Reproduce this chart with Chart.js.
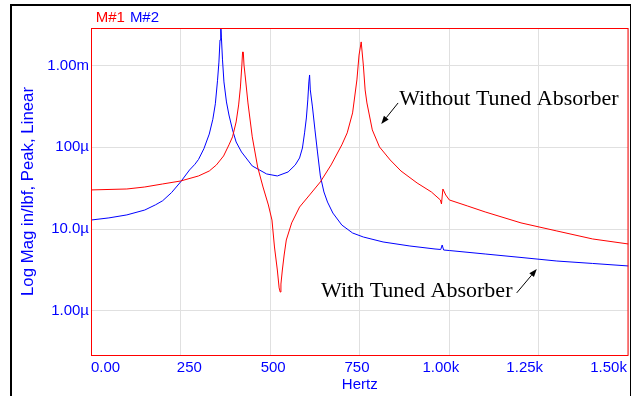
<!DOCTYPE html>
<html><head><meta charset="utf-8">
<script src="https://cdn.jsdelivr.net/npm/chart.js@4.4.1/dist/chart.umd.min.js"></script>
<style>
html,body{margin:0;padding:0;background:#fff;overflow:hidden;width:631px;height:396px;}
#frame{position:absolute;left:10px;top:4px;width:618px;height:420px;border-left:2px solid #000;border-top:2px solid #000;border-right:1px solid #000;}
#c{position:absolute;left:0;top:0;}
</style></head><body>
<div id="frame"></div>
<canvas id="c" width="631" height="396"></canvas>
<script>
// ---- data ----
const seriesNames = ['M#1', 'M#2'];
const xTicks = [0, 250, 500, 750, 1000, 1250, 1500];
const xTickLabels = ['0.00', '250', '500', '750', '1.00k', '1.25k', '1.50k'];
const yTicks = [1e-3, 1e-4, 1e-5, 1e-6];
const yTickLabels = ['1.00m', '100\u00b5', '10.0\u00b5', '1.00\u00b5'];

// M#1 : without tuned absorber (red)
const redFreq = [0,100,150,200,250,300,330,350,370,385,395,405,412,417,421,423,425,427,430,438,450,465,480,495,505,512,520,525,528,530,534,539,545,560,582,610,640,670,700,715,730,742,748,754,760,765,770,785,805,835,865,910,950,975,978,982,990,1000,1050,1100,1200,1300,1400,1500];
const redMag = [3.01e-5,3.09e-5,3.27e-5,3.56e-5,3.87e-5,4.46e-5,5.13e-5,6.08e-5,7.83e-5,1.07e-4,1.34e-4,2.04e-4,3.29e-4,5.46e-4,1.01e-3,1.46e-3,1.46e-3,1.01e-3,7.65e-4,3.48e-4,1.34e-4,5.74e-5,3.27e-5,1.97e-5,1.29e-5,6.04e-6,3.16e-6,1.91e-6,1.70e-6,2.13e-6,3.16e-6,4.82e-6,7.36e-6,1.19e-5,1.86e-5,2.61e-5,3.77e-5,6.08e-5,1.07e-4,1.50e-4,2.63e-4,6.65e-4,1.34e-3,1.94e-3,1.01e-3,5.02e-4,3.48e-4,1.63e-4,1.01e-4,6.99e-5,5.13e-5,3.66e-5,2.84e-5,2.27e-5,2.03e-5,3.09e-5,2.61e-5,2.27e-5,1.92e-5,1.62e-5,1.19e-5,9.48e-6,7.57e-6,6.57e-6];

// M#2 : with tuned absorber (blue)
const blueFreq = [0,50,100,150,180,200,225,250,275,290,300,315,330,340,347,353,357,360,362,364,367,371,378,385,395,405,420,450,490,520,550,570,582,590,596,601,605,608,610,612,618,625,632,640,650,660,675,700,730,760,815,890,960,976,980,984,1000,1100,1200,1300,1400,1500];
const blueMag = [1.29e-5,1.37e-5,1.49e-5,1.71e-5,1.98e-5,2.22e-5,2.80e-5,3.77e-5,5.28e-5,6.20e-5,7.10e-5,9.60e-5,1.45e-4,2.20e-4,3.40e-4,6.50e-4,1.10e-3,2.05e-3,3.5e-3,2.17e-3,1.17e-3,6.29e-4,3.58e-4,2.48e-4,1.63e-4,1.16e-4,8.76e-5,5.91e-5,4.72e-5,4.46e-5,4.99e-5,6.08e-5,7.40e-5,9.80e-5,1.50e-4,2.28e-4,3.79e-4,6.29e-4,7.65e-4,5.02e-4,3.11e-4,1.63e-4,8.76e-5,4.46e-5,2.84e-5,2.14e-5,1.57e-5,1.12e-5,8.96e-6,8.00e-6,6.96e-6,6.21e-6,5.71e-6,5.63e-6,6.39e-6,5.55e-6,5.47e-6,4.96e-6,4.50e-6,4.07e-6,3.80e-6,3.54e-6];

// ---- styling ----
const RED = '#ff0000', BLUE = '#0000ff', GRID = '#e0e0e0';
const FONT = '"Liberation Sans", Arial, sans-serif';
const SERIF = '"Liberation Serif", "Times New Roman", serif';
const colors = [RED, BLUE];

const annotations = [
  {text: 'Without Tuned Absorber', x: 860, y: 3.29e-4, tail: [857, 3.48e-4], tip: [810, 1.93e-4]},
  {text: 'With Tuned Absorber', x: 642, y: 1.48e-6, tail: [1188, 1.66e-6], tip: [1244, 3.25e-6]}
];

const toXY = (fs, ms) => fs.map((f, i) => ({x: f, y: ms[i]}));

const layoutTweak = {
  id: 'layoutTweak',
  afterLayout(chart) {
    const lg = chart.legend;
    if (lg) { lg.top += 7.5; lg.bottom += 7.5; lg.left += 90.7; lg.right += 90.7; }
  }
};

const framePlugin = {
  id: 'framePlugin',
  afterDraw(chart) {
    const {ctx, chartArea: a, scales} = chart;
    ctx.save();
    ctx.strokeStyle = RED; ctx.lineWidth = 1;
    ctx.strokeRect(a.left + 0.5, a.top + 0.5, a.right - a.left - 1, a.bottom - a.top);
    // annotations
    ctx.fillStyle = '#000'; ctx.strokeStyle = '#000';
    ctx.font = '22px ' + SERIF;
    ctx.textBaseline = 'alphabetic'; ctx.textAlign = 'left';
    annotations.forEach(an => {
      const tx = scales.x.getPixelForValue(an.x), ty = scales.y.getPixelForValue(an.y);
      ctx.fillText(an.text, tx, ty);
      const x0 = scales.x.getPixelForValue(an.tail[0]), y0 = scales.y.getPixelForValue(an.tail[1]);
      const x1 = scales.x.getPixelForValue(an.tip[0]), y1 = scales.y.getPixelForValue(an.tip[1]);
      const ang = Math.atan2(y1 - y0, x1 - x0);
      const L = 8, W = 3;
      const bx = x1 - L * Math.cos(ang), by = y1 - L * Math.sin(ang);
      ctx.lineWidth = 1;
      ctx.beginPath(); ctx.moveTo(x0, y0); ctx.lineTo(bx, by); ctx.stroke();
      ctx.beginPath();
      ctx.moveTo(x1, y1);
      ctx.lineTo(bx + W * Math.sin(ang), by - W * Math.cos(ang));
      ctx.lineTo(bx - W * Math.sin(ang), by + W * Math.cos(ang));
      ctx.closePath(); ctx.fill();
    });
    ctx.restore();
  }
};

new Chart(document.getElementById('c'), {
  type: 'line',
  data: {
    datasets: [
      {label: seriesNames[0], data: toXY(redFreq, redMag), borderColor: RED, borderWidth: 1, pointRadius: 0, tension: 0, fill: false, xAxisID: 'x', yAxisID: 'y'},
      {label: seriesNames[1], data: toXY(blueFreq, blueMag), borderColor: BLUE, borderWidth: 1, pointRadius: 0, tension: 0, fill: false, xAxisID: 'x', yAxisID: 'y'}
    ]
  },
  options: {
    responsive: false, animation: false, devicePixelRatio: 1,
    layout: {padding: {top: 3, left: 0, right: 1, bottom: 0}},
    events: [],
    plugins: {
      tooltip: {enabled: false},
      legend: {
        display: true, position: 'top', align: 'start',
        labels: {
          boxWidth: -2.5, padding: 0,
          font: {family: FONT, size: 15},
          generateLabels: () => seriesNames.map((n, i) => ({
            text: n, fontColor: colors[i], fillStyle: 'rgba(0,0,0,0)', strokeStyle: 'rgba(0,0,0,0)',
            lineWidth: 0, hidden: false, datasetIndex: i
          }))
        }
      }
    },
    scales: {
      x: {
        type: 'linear', position: 'bottom', min: 0, max: 1500,
        afterFit(s) { s.height = 0; },
        afterBuildTicks(s) { s.ticks = xTicks.map(v => ({value: v})); },
        ticks: {display: false},
        grid: {color: GRID, lineWidth: 1, drawTicks: false},
        border: {display: false}
      },
      x2: {
        type: 'linear', position: 'bottom', min: -43.2, max: 1559.5,
        afterFit(s) { s.height = 41; },
        afterBuildTicks(s) { s.ticks = xTicks.map(v => ({value: v})); },
        ticks: {callback: (v, i) => xTickLabels[i], color: BLUE, font: {family: FONT, size: 15}, padding: 4, maxRotation: 0, autoSkip: false},
        grid: {display: false, drawTicks: false},
        border: {display: false},
        title: {display: true, text: 'Hertz', color: BLUE, font: {family: FONT, size: 15}, padding: {top: 0, bottom: 2}}
      },
      y: {
        type: 'logarithmic', position: 'left', min: 2.89e-7, max: 2.87e-3,
        afterFit(s) { s.width = 91; },
        afterBuildTicks(s) { s.ticks = yTicks.map(v => ({value: v})); },
        ticks: {callback: (v, i) => yTickLabels[i], color: BLUE, font: {family: FONT, size: 15}, padding: 2, autoSkip: false},
        grid: {color: GRID, lineWidth: 1, drawTicks: false},
        border: {display: false},
        title: {display: true, text: 'Log Mag in/lbf, Peak, Linear', color: BLUE, font: {family: FONT, size: 16.8}, padding: {top: 18.4, bottom: 0}}
      }
    }
  },
  plugins: [layoutTweak, framePlugin]
});
</script></body></html>
